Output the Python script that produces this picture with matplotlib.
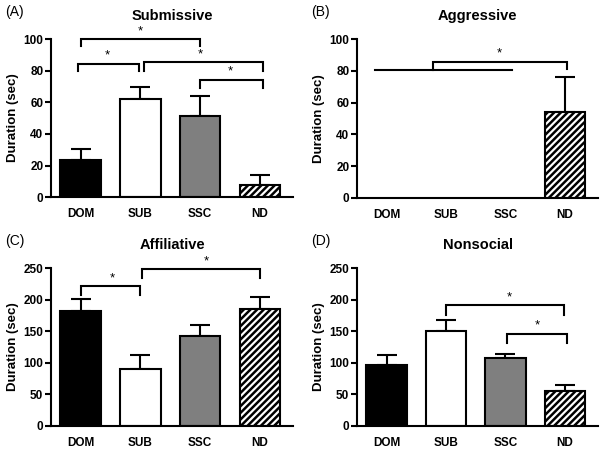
import matplotlib
import matplotlib.pyplot as plt
import numpy as np

matplotlib.use("Agg")

plt.rcParams["font.family"] = ["Liberation Sans", "DejaVu Sans"]
plt.rcParams["hatch.linewidth"] = 1.8

groups = ["DOM", "SUB", "SSC", "ND"]
colors = ["black", "white", "#7f7f7f", "white"]
hatches = [None, None, None, "/////"]

submissive_mean = [23.2, 62.2, 51.1, 7.8]
submissive_err = [7.0, 7.4, 13.2, 5.9]
aggressive_mean = [0, 0, 0, 54.0]
aggressive_err = [0, 0, 0, 22.3]
affiliative_mean = [182.0, 89.7, 141.9, 184.6]
affiliative_err = [19.5, 22.1, 17.4, 19.5]
nonsocial_mean = [96.0, 149.8, 107.6, 55.4]
nonsocial_err = [15.8, 17.4, 6.9, 8.9]

# brackets: (x_left, x_right, top, left_leg_bottom, right_leg_bottom, star_x)
sub_brackets = [(0.0, 2.0, 100, 95.4, 95.4, 1.0),
                (-0.04, 0.98, 84.4, 80, 80, 0.45),
                (1.06, 3.05, 85.4, 80, 80, 2.0),
                (2.0, 3.05, 74.3, 69, 69, 2.5)]
agg_brackets = [(0.78, 3.03, 85.9, 80.5, 81, 1.9)]
aff_brackets = [(0.0, 1.0, 221, 207.8, 207.8, 0.53),
                (1.02, 3.0, 249, 234.7, 234.7, 2.1)]
non_brackets = [(1.0, 2.98, 191, 176, 176, 2.07),
                (2.03, 3.03, 146, 132, 132, 2.53)]

panels = [
    ("(A)", "Submissive", submissive_mean, submissive_err, 100, 20, sub_brackets,
     [0.084, 0.562, 0.400, 0.351]),
    ("(B)", "Aggressive", aggressive_mean, aggressive_err, 100, 20, agg_brackets,
     [0.589, 0.560, 0.398, 0.353]),
    ("(C)", "Affiliative", affiliative_mean, affiliative_err, 250, 50, aff_brackets,
     [0.084, 0.054, 0.400, 0.350]),
    ("(D)", "Nonsocial", nonsocial_mean, nonsocial_err, 250, 50, non_brackets,
     [0.589, 0.054, 0.398, 0.350]),
]

fig = plt.figure(figsize=(6.06, 4.5), dpi=100)
x = np.arange(len(groups))

for label, title, mean, err, ymax, step, brackets, rect in panels:
    ax = fig.add_axes(rect)
    for xi, m, e, c, h in zip(x, mean, err, colors, hatches):
        if m <= 0:
            continue
        ax.bar(xi, m, width=0.68, color=c, edgecolor="black", linewidth=1.5,
               hatch=h, zorder=2)
        ax.errorbar(xi, m, yerr=[[0], [e]], fmt="none", ecolor="black",
                    elinewidth=1.5, capsize=7, capthick=1.5, zorder=1)

    for xl, xr, top, lb, rb, sx in brackets:
        ax.plot([xl, xl, xr, xr], [lb, top, top, rb], color="black", lw=1.5,
                clip_on=False, solid_joinstyle="miter")
        ax.text(sx, top + ymax * 0.012, "*", ha="center", va="bottom",
                fontsize=9.5, clip_on=False)

    if title == "Aggressive":
        ax.plot([-0.2, 2.11], [80.5, 80.5], color="black", lw=1.5)

    ax.set_xlim(-0.5, 3.56)
    ax.set_ylim(0, ymax)
    ax.set_yticks(np.arange(0, ymax + 1, step))
    ax.set_xticks(x)
    ax.set_xticklabels(groups)
    for s in ["top", "right"]:
        ax.spines[s].set_visible(False)
    for s in ["left", "bottom"]:
        ax.spines[s].set_linewidth(1.5)
    ax.tick_params(axis="x", length=0, pad=8)
    ax.tick_params(axis="y", length=4, width=1.5, pad=1.5)
    for t in ax.get_xticklabels() + ax.get_yticklabels():
        t.set_fontweight("bold")
        t.set_fontsize(8.5)
    ax.set_ylabel("Duration (sec)", fontsize=9.5, fontweight="bold", labelpad=3)
    ax.set_title(title, fontsize=10.5, fontweight="bold", pad=14)
    bbox = ax.get_position()
    fig.text(bbox.x0 - 0.075, bbox.y1 + 0.045, label, fontsize=10, va="bottom")

fig.savefig("out.png", dpi=100)
